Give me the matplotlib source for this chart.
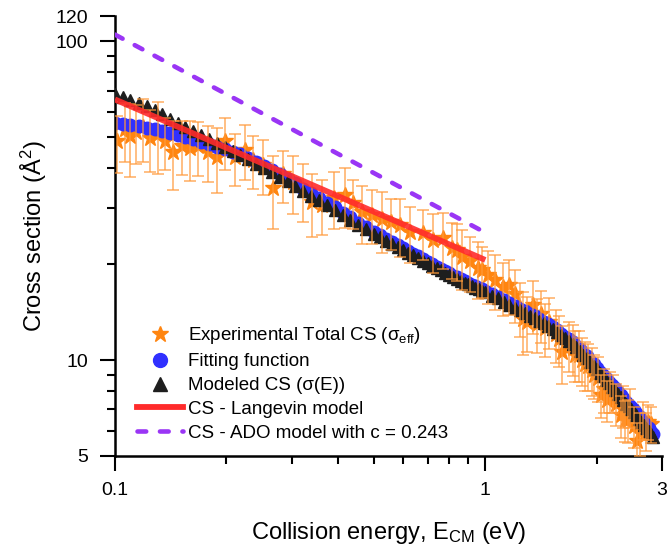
import matplotlib
matplotlib.use("Agg")
import matplotlib.pyplot as plt
from matplotlib.lines import Line2D
from matplotlib.ticker import FixedLocator, FixedFormatter, NullFormatter

plt.rcParams['font.family'] = ['Liberation Sans', 'DejaVu Sans']
plt.rcParams['mathtext.fontset'] = 'custom'
plt.rcParams['mathtext.rm'] = 'Liberation Sans'
plt.rcParams['mathtext.it'] = 'Liberation Sans:italic'

# ---------------- data ----------------
E_model = [0.100, 0.105, 0.110, 0.116, 0.122, 0.128, 0.134, 0.141, 0.148, 0.155,
           0.163, 0.171, 0.180, 0.189, 0.198, 0.208, 0.218, 0.229, 0.241, 0.253,
           0.265, 0.279, 0.293, 0.307, 0.323, 0.339, 0.356, 0.373, 0.392, 0.412,
           0.432, 0.454, 0.476,
           0.50, 0.52, 0.54, 0.56, 0.58, 0.60, 0.62, 0.64, 0.66, 0.68,
           0.70, 0.72, 0.74, 0.76, 0.78, 0.80, 0.82, 0.84, 0.86, 0.88,
           0.90, 0.92, 0.94, 0.96, 0.98,
           1.00, 1.04, 1.08, 1.12, 1.16, 1.20, 1.24, 1.28, 1.32, 1.36,
           1.40, 1.44, 1.48, 1.52, 1.56, 1.60, 1.64, 1.68, 1.72, 1.76,
           1.80, 1.84, 1.88, 1.92, 1.96, 2.00, 2.04, 2.08, 2.12, 2.16,
           2.20, 2.24, 2.28, 2.32, 2.36, 2.40, 2.44, 2.48, 2.52, 2.56,
           2.60, 2.64, 2.68, 2.72, 2.76, 2.80, 2.84]
sigma_model = [68.1, 66.9, 65.6, 64.1, 62.5, 60.8, 59.0, 57.1, 55.4, 53.8,
               52.3, 50.9, 49.5, 47.9, 46.6, 45.2, 43.9, 42.6, 41.3, 40.0,
               38.9, 37.6, 36.4, 35.2, 34.0, 32.8, 31.7, 30.6, 29.6, 28.5,
               27.5, 26.6, 25.7,
               24.9, 24.3, 23.7, 23.2, 22.7, 22.2, 21.7, 21.3, 20.9, 20.5,
               20.1, 19.7, 19.4, 19.1, 18.8, 18.5, 18.2, 18.0, 17.75, 17.5,
               17.3, 17.05, 16.85, 16.65, 16.45,
               16.3, 15.9, 15.6, 15.25, 14.9, 14.6, 14.35, 14.05, 13.75, 13.55,
               13.3, 13.05, 12.8, 12.5, 12.25, 11.95, 11.7, 11.45, 11.2, 10.95,
               10.7, 10.4, 10.15, 9.85, 9.6, 9.35, 9.1, 8.9, 8.65, 8.45,
               8.25, 8.05, 7.85, 7.65, 7.5, 7.3, 7.15, 7.0, 6.85, 6.7,
               6.55, 6.4, 6.25, 6.1, 6.0, 5.85, 5.75]
sigma_fit = [55.6, 55.1, 54.6, 54.1, 53.5, 52.9, 52.3, 51.6, 50.8, 50.0,
             49.2, 48.4, 47.5, 46.6, 45.8, 45.0, 44.3, 43.1, 41.9, 40.6,
             39.5, 38.2, 37.0, 35.8, 34.5, 33.3, 32.2, 31.1, 30.1, 29.0,
             28.0, 27.0, 26.1,
             25.2, 24.6, 24.0, 23.5, 23.0, 22.5, 22.0, 21.55, 21.15, 20.75,
             20.35, 19.95, 19.65, 19.35, 19.05, 18.7, 18.4, 18.2, 17.95, 17.7,
             17.5, 17.25, 17.05, 16.85, 16.65,
             16.5, 16.1, 15.8, 15.45, 15.1, 14.8, 14.5, 14.2, 13.9, 13.7,
             13.45, 13.2, 12.95, 12.65, 12.4, 12.1, 11.85, 11.6, 11.35, 11.1,
             10.85, 10.55, 10.3, 9.95, 9.7, 9.45, 9.2, 9.0, 8.75, 8.55,
             8.35, 8.15, 7.95, 7.75, 7.6, 7.4, 7.25, 7.1, 6.95, 6.8,
             6.65, 6.5, 6.35, 6.2, 6.1, 5.95, 5.85]

E_exp = [0.1013, 0.1064, 0.1098, 0.1139, 0.1190, 0.1243, 0.1307, 0.1365, 0.1434, 0.1517,
         0.1594, 0.1676, 0.1784, 0.1885, 0.1983, 0.2110, 0.2246, 0.2360, 0.2512, 0.2674,
         0.2844, 0.3027, 0.3222, 0.3408, 0.3624, 0.3907, 0.4186, 0.4396, 0.4648, 0.4943,
         0.5256, 0.5559, 0.5884, 0.6256, 0.6780, 0.7217, 0.7681, 0.8126, 0.8378, 0.8640,
         0.9103, 0.9550, 0.9785, 1.015, 1.060, 1.114, 1.157,
         1.204, 1.24, 1.266, 1.298, 1.347, 1.38, 1.410, 1.45, 1.482, 1.548,
         1.58, 1.616, 1.678, 1.72, 1.752, 1.79, 1.830, 1.86, 1.899, 1.94,
         1.971, 2.01, 2.047, 2.09, 2.134, 2.17, 2.214, 2.26, 2.319, 2.35,
         2.390, 2.43, 2.463, 2.52, 2.565, 2.61, 2.670, 2.71, 2.750, 2.80]
sigma_exp = [48.5, 52.9, 50.6, 52.1, 53.7, 49.9, 51.3, 48.5, 45.1, 47.1,
             46.4, 46.8, 45.1, 43.5, 48.5, 43.2, 45.7, 42.5, 41.0, 34.7,
             38.2, 36.3, 34.2, 31.3, 30.7, 32.3, 33.0, 31.2, 29.2, 28.6,
             27.6, 27.1, 26.5, 25.2, 25.1, 23.8, 24.1, 22.5, 22.2, 21.1,
             20.4, 19.5, 19.2, 18.5, 17.8, 16.9, 17.2,
             16.1, 14.6, 13.4, 13.2, 14.9, 13.0, 13.9, 12.6, 13.2, 12.1,
             11.6, 10.6, 11.2, 10.9, 10.4, 10.4, 10.0, 9.7, 9.6, 9.3,
             8.95, 8.8, 7.77, 8.1, 7.48, 8.0, 7.9, 7.3, 6.7, 7.2,
             6.47, 6.5, 7.1, 6.2, 5.55, 5.9, 6.5, 6.0, 6.4, 6.3]
err_exp = [10, 11, 13, 11, 12, 11, 13, 9, 11, 9,
           10, 9, 9, 10, 9, 8, 9, 8, 8, 9,
           7, 7.5, 7, 7, 6, 6.5, 7, 5.5, 6, 5.5,
           6, 5, 5.5, 5, 4.5, 5, 4.8, 4.5, 4.5, 4.5,
           4, 4, 3.5, 3.5, 3.5, 3.2, 3.4,
           3.0, 2.8, 3.0, 2.6, 2.8, 2.5, 2.6, 2.4, 2.4, 2.3,
           2.1, 2.2, 2.0, 2.0, 1.9, 1.9, 1.7, 1.7, 1.6, 1.6,
           1.4, 1.4, 1.2, 1.3, 1.1, 1.2, 1.1, 1.1, 1.0, 1.1,
           0.95, 1.0, 1.0, 0.9, 0.8, 0.9, 0.9, 0.8, 0.8, 0.8]

E_langevin = [0.1, 1.0]
sigma_langevin = [65.7, 20.6]
E_ado = [0.1, 1.0]
sigma_ado = [105.0, 25.1]

labels = [r"Experimental Total CS (σ$_{\rm eff}$)",
          "Fitting function",
          "Modeled CS (σ(E))",
          "CS - Langevin model",
          "CS - ADO model with c = 0.243"]

x_ticks = [0.1, 1, 3]
x_ticklabels = ["0.1", "1", "3"]
x_minor = [0.2, 0.3, 0.4, 0.5, 0.6, 0.7, 0.8, 0.9, 2]
y_ticks = [5, 10, 100, 120]
y_ticklabels = ["5", "10", "100", "120"]
y_minor = [6, 7, 8, 9, 20, 30, 40, 50, 60, 70, 80, 90]

# ---------------- styles ----------------
c_exp = '#ff8510'
c_err = '#ff9a3a'
c_fit = '#3030ff'
c_mod = '#1e1e1e'
c_lan = '#ff2b2b'
c_ado = '#9a35f5'

fig = plt.figure(figsize=(6.68, 5.54), dpi=100)
ax = fig.add_axes([0.172, 0.177, 0.819, 0.794])
ax.set_xscale('log')
ax.set_yscale('log')

ax.plot(E_exp, sigma_exp, linestyle='none', marker='*', ms=12, color=c_exp,
        mec=c_exp, zorder=1.5)
ax.plot(E_model, sigma_fit, linestyle='none', marker='o', ms=9, color=c_fit,
        mec=c_fit, zorder=2)
ax.plot(E_model, sigma_model, linestyle='none', marker='^', ms=9, color=c_mod,
        mec=c_mod, zorder=3)
ax.errorbar(E_exp, sigma_exp, yerr=err_exp, fmt='none', ecolor=c_err, elinewidth=1.1,
            capsize=4, capthick=1.1, alpha=0.8, zorder=3.5)
ax.plot(E_langevin, sigma_langevin, color=c_lan, lw=4.2, alpha=0.9,
        solid_capstyle='butt', zorder=5)
ax.plot(E_ado, sigma_ado, color=c_ado, lw=3.3, linestyle=(0, (1.9, 3.0)),
        dash_capstyle='round', zorder=5)

ax.set_xlim(0.1, 3)
ax.set_ylim(5, 120)

ax.xaxis.set_major_locator(FixedLocator(x_ticks))
ax.xaxis.set_major_formatter(FixedFormatter(x_ticklabels))
ax.xaxis.set_minor_locator(FixedLocator(x_minor))
ax.xaxis.set_minor_formatter(NullFormatter())
ax.yaxis.set_major_locator(FixedLocator(y_ticks))
ax.yaxis.set_major_formatter(FixedFormatter(y_ticklabels))
ax.yaxis.set_minor_locator(FixedLocator(y_minor))
ax.yaxis.set_minor_formatter(NullFormatter())

for s in ['top', 'right']:
    ax.spines[s].set_visible(False)
for s in ['left', 'bottom']:
    ax.spines[s].set_linewidth(1.8)
ax.tick_params(which='major', direction='out', length=11, width=1.5,
               labelsize=14, pad=8)
ax.tick_params(which='minor', direction='out', length=6, width=1.5)

ax.set_xlabel(r"Collision energy, E$_{\rm CM}$ (eV)", fontsize=17, labelpad=15)
ax.set_ylabel(r"Cross section (Å$^2$)", fontsize=17, labelpad=5)

handles = [
    Line2D([], [], linestyle='none', marker='*', ms=12, color=c_exp),
    Line2D([], [], linestyle='none', marker='o', ms=10, color=c_fit),
    Line2D([], [], linestyle='none', marker='^', ms=9.5, color=c_mod),
    Line2D([], [], color=c_lan, lw=4.2),
    Line2D([], [], color=c_ado, lw=3.3, linestyle=(0, (1.9, 3.0)), dash_capstyle='round'),
]
leg = ax.legend(handles, labels, loc='lower left', bbox_to_anchor=(0.0265, 0.015),
                frameon=False, fontsize=13.5, handlelength=2.45, handletextpad=0.27,
                labelspacing=0.36, borderaxespad=0.0)

fig.savefig('out.png', dpi=100)
